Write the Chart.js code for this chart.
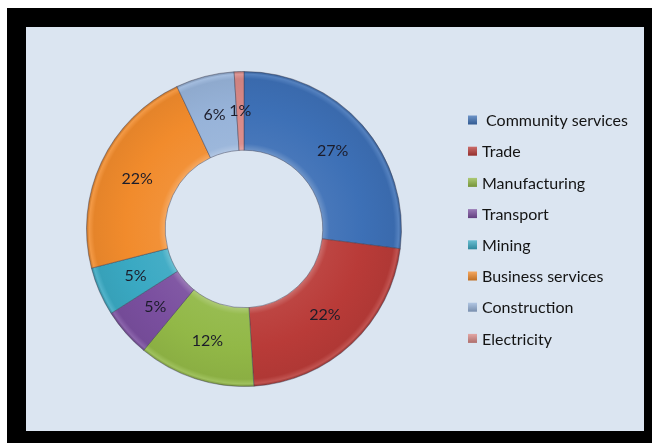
<!DOCTYPE html>
<html>
<head>
<meta charset="utf-8">
<script src="https://cdn.jsdelivr.net/npm/chart.js@4.4.1/dist/chart.umd.min.js"></script>
<style>
  html, body { margin: 0; padding: 0; background: #ffffff; width: 652px; height: 443px; overflow: hidden; }
  #frame { position: absolute; left: 7px; top: 8px; width: 645px; height: 435px; background: #000; }
  #panel { position: absolute; left: 26px; top: 27px; width: 618px; height: 404px; background: #dbe5f1; }
  canvas { display: block; }
</style>
</head>
<body>
<div id="frame"></div>
<div id="panel"><canvas id="c" width="618" height="404"></canvas></div>
<script>
// Employment share by sector (%)
const sectors = [' Community services', 'Trade', 'Manufacturing', 'Transport', 'Mining', 'Business services', 'Construction', 'Electricity'];
const shares = [27, 22, 12, 5, 5, 22, 6, 1];
const sectorColors = ['#3d70b6', '#b93b38', '#92b847', '#7a4f9f', '#3aa9c3', '#f18b2c', '#97b3d9', '#d98987'];

function shade(hex, amt) {
  const n = parseInt(hex.slice(1), 16);
  let r = n >> 16, g = (n >> 8) & 255, b = n & 255;
  const f = c => Math.max(0, Math.min(255, Math.round(amt >= 0 ? c + (255 - c) * amt : c * (1 + amt))));
  return 'rgb(' + f(r) + ',' + f(g) + ',' + f(b) + ')';
}

// Bevelled ring fill: lighter rims, darker outer edge
function ringFill(ctx) {
  const base = sectorColors[ctx.dataIndex];
  const chart = ctx.chart;
  const a = chart.chartArea;
  if (!a) return base;
  const cx = (a.left + a.right) / 2, cy = (a.top + a.bottom) / 2;
  const outer = Math.min(a.right - a.left, a.bottom - a.top) / 2;
  const inner = outer * 0.5;
  const g = chart.ctx.createRadialGradient(cx, cy, inner, cx, cy, outer);
  g.addColorStop(0, shade(base, 0.25));
  g.addColorStop(0.08, shade(base, 0.05));
  g.addColorStop(0.5, base);
  g.addColorStop(0.9, shade(base, -0.05));
  g.addColorStop(0.96, shade(base, 0.12));
  g.addColorStop(1, shade(base, -0.25));
  return g;
}

const pctLabels = {
  id: 'pctLabels',
  afterDatasetsDraw(chart) {
    const c = chart.ctx;
    const meta = chart.getDatasetMeta(0);
    c.save();
    c.font = '16px Lato, "Liberation Sans", sans-serif';
    c.fillStyle = '#1c1c2a';
    c.textAlign = 'center';
    c.textBaseline = 'middle';
    meta.data.forEach((arc, i) => {
      const p = arc.tooltipPosition();
      c.fillText(shares[i] + '%', p.x, p.y);
    });
    c.restore();
  }
};

const sideLegend = {
  id: 'sideLegend',
  afterDraw(chart) {
    const c = chart.ctx;
    const x0 = 442, y0 = 93, step = 31.2;
    c.save();
    c.font = '16px Lato, "Liberation Sans", sans-serif';
    c.textBaseline = 'middle';
    c.textAlign = 'left';
    chart.data.labels.forEach((lab, i) => {
      const y = y0 + i * step;
      const col = sectorColors[i];
      const g = c.createLinearGradient(x0, y - 4.5, x0, y + 4.5);
      g.addColorStop(0, shade(col, 0.25));
      g.addColorStop(1, shade(col, -0.2));
      c.fillStyle = g;
      c.fillRect(x0, y - 4.5, 9, 9);
      c.fillStyle = '#141414';
      c.fillText(lab, x0 + 14, y + 1);
    });
    c.restore();
  }
};

new Chart(document.getElementById('c'), {
  type: 'doughnut',
  data: {
    labels: sectors,
    datasets: [{
      data: shares,
      backgroundColor: ringFill,
      borderColor: 'rgba(60,60,80,0.45)',
      borderWidth: 1
    }]
  },
  options: {
    responsive: false,
    animation: false,
    cutout: '50%',
    layout: { padding: { left: 60, top: 44, right: 242, bottom: 44 } },
    plugins: {
      legend: { display: false },
      tooltip: { enabled: false }
    }
  },
  plugins: [pctLabels, sideLegend]
});
</script>
</body>
</html>
